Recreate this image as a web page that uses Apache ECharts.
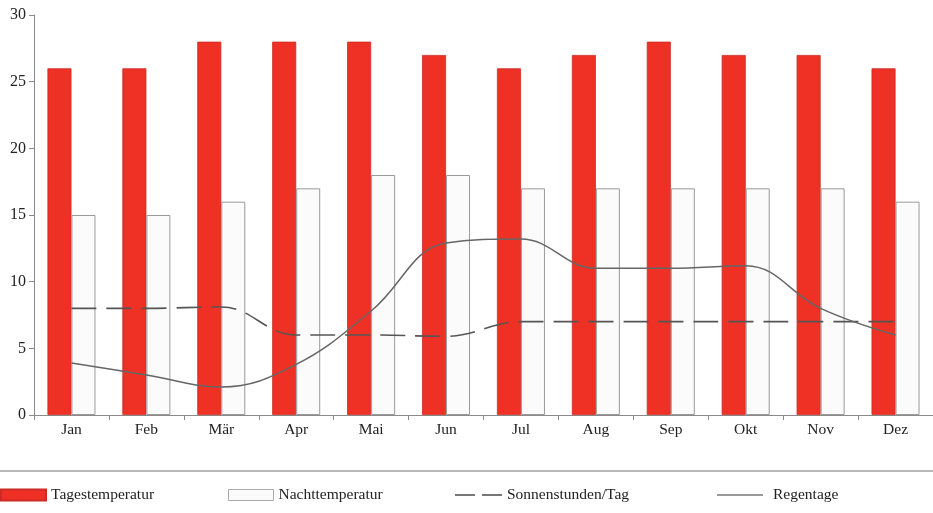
<!DOCTYPE html>
<html>
<head>
<meta charset="utf-8">
<script src="https://cdn.jsdelivr.net/npm/echarts@6/dist/echarts.min.js"></script>
<style>html,body{margin:0;padding:0;background:#fff;}#c{width:933px;height:513px;}</style>
</head>
<body>
<div id="c"></div>
<script>
const months = ['Jan','Feb','Mär','Apr','Mai','Jun','Jul','Aug','Sep','Okt','Nov','Dez'];
const tagestemperatur = [26, 26, 28, 28, 28, 27, 26, 27, 28, 27, 27, 26];
const nachttemperatur = [15, 15, 16, 17, 18, 18, 17, 17, 17, 17, 17, 16];
const sonnenstunden = [8, 8, 8.1, 6, 6, 5.9, 7, 7, 7, 7, 7, 7];
const regentage = [3.9, 3.0, 2.1, 3.8, 7.8, 12.9, 13.2, 11.0, 11.0, 11.2, 8.0, 6.0];

const FONT = '"Liberation Serif", "DejaVu Serif", serif';
const chart = echarts.init(document.getElementById('c'), null, {renderer: 'canvas'});
const textStyle = {fontFamily: FONT, fontSize: 15.5, color: '#222'};
const legendBase = {
  orient: 'horizontal', top: 487, padding: 0, itemWidth: 45, itemHeight: 11,
  textStyle: textStyle, selectedMode: false
};
chart.setOption({
  animation: false,
  grid: {left: 34, top: 15, height: 400, width: 907, containLabel: false},
  xAxis: {
    type: 'category', data: months,
    axisLine: {lineStyle: {color: '#8a8a8a', width: 1}},
    axisTick: {show: true, length: 5, lineStyle: {color: '#8a8a8a'}},
    axisLabel: {fontFamily: FONT, fontSize: 15.5, color: '#222', margin: 7},
    splitLine: {show: false}
  },
  yAxis: {
    type: 'value', min: 0, max: 30, interval: 5,
    axisLine: {show: true, lineStyle: {color: '#8a8a8a', width: 1}},
    axisTick: {show: true, length: 5, lineStyle: {color: '#8a8a8a'}},
    axisLabel: {fontFamily: FONT, fontSize: 16, color: '#222', margin: 8},
    splitLine: {show: false}
  },
  legend: [
    Object.assign({}, legendBase, {left: 0, data: [{name: 'Tagestemperatur', icon: 'rect'}]}),
    Object.assign({}, legendBase, {left: 228,
      data: [{name: 'Nachttemperatur', icon: 'rect', itemStyle: {color: '#fbfbfb', borderColor: '#aaa', borderWidth: 1}}]}),
    Object.assign({}, legendBase, {left: 455, itemWidth: 47, itemHeight: 2,
      data: [{name: 'Sonnenstunden/Tag', icon: 'path://M0,0 H20 V2 H0 Z M27,0 H47 V2 H27 Z',
              itemStyle: {color: '#777', borderWidth: 0}}]}),
    Object.assign({}, legendBase, {left: 717, itemWidth: 46, itemHeight: 2,
      data: [{name: 'Regentage', icon: 'path://M0,0 H46 V2 H0 Z', itemStyle: {color: '#999', borderWidth: 0}}],
      textStyle: Object.assign({}, textStyle, {padding: [0, 0, 0, 5]})})
  ],
  graphic: [{
    type: 'line', shape: {x1: 0, y1: 471, x2: 933, y2: 471},
    style: {stroke: '#b8b8b8', lineWidth: 2}, silent: true
  }],
  series: [
    {
      name: 'Tagestemperatur', type: 'bar', data: tagestemperatur,
      barWidth: 24, barGap: '0%',
      itemStyle: {color: '#ee3124', borderColor: '#cc2c25', borderWidth: 0.8}
    },
    {
      name: 'Nachttemperatur', type: 'bar', data: nachttemperatur,
      barWidth: 24, barGap: '0%',
      itemStyle: {color: '#fbfbfb', borderColor: '#9a9a9a', borderWidth: 1}
    },
    {
      name: 'Sonnenstunden/Tag', type: 'line', data: sonnenstunden,
      smooth: 0.4, symbol: 'none', z: 5,
      lineStyle: {color: '#555', width: 1.6, type: [25, 10]},
      itemStyle: {color: '#555'}
    },
    {
      name: 'Regentage', type: 'line', data: regentage,
      smooth: 0.4, symbol: 'none', z: 5,
      lineStyle: {color: '#666', width: 1.5},
      itemStyle: {color: '#666'}
    }
  ]
});
</script>
</body>
</html>
